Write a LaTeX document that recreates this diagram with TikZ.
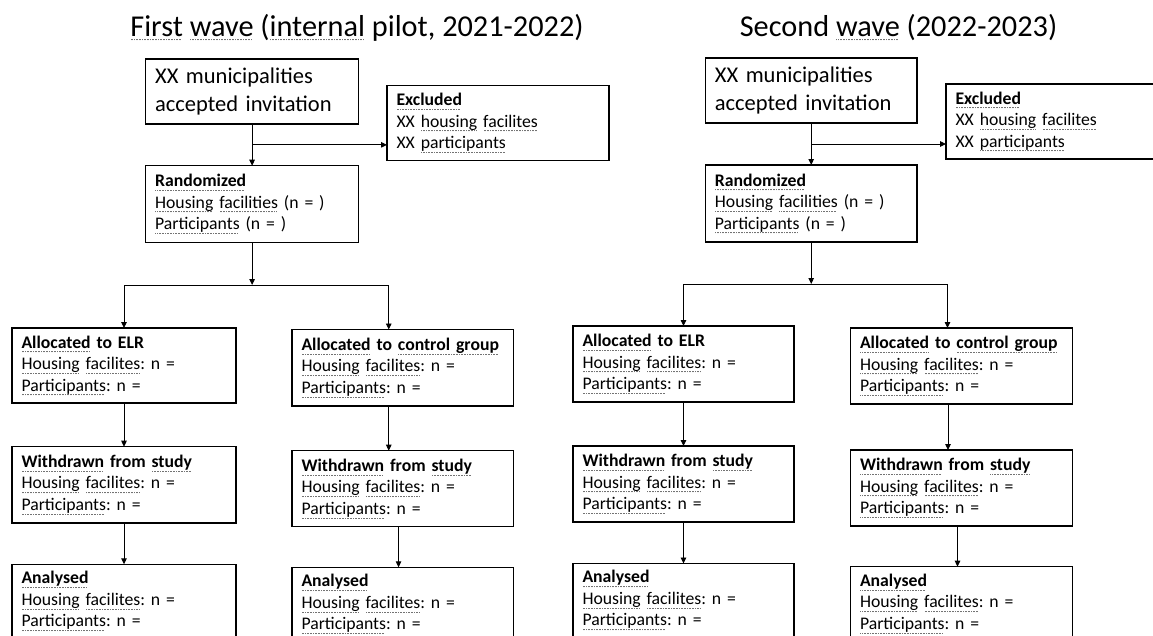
\documentclass[tikz,border=0pt]{standalone}
\usepackage{fontspec}
\setmainfont{Carlito}
\usetikzlibrary{arrows.meta,calc}
\frenchspacing
\definecolor{sqcol}{gray}{0.45}
\newsavebox\sqsavebox
\newcommand\sqline[1]{\leavevmode\sbox\sqsavebox{#1}\rlap{\hbox to \wd\sqsavebox{\color{sqcol}\leaders\hbox to 1.6pt{\hss\vrule depth 4.4pt height -3.4pt width 0.9pt\hss}\hfill}}\usebox\sqsavebox}
\newcommand\titlefont{\fontsize{30.3}{36}\selectfont\frenchspacing}
\newcommand\bigfont{\fontsize{22.5}{27.5}\selectfont\frenchspacing}
\newcommand\bodyfont{\fontsize{17.7}{21.5}\selectfont\frenchspacing}
\tikzset{
  x=1pt, y=1pt,
  box/.style={draw, line width=1.4pt, rectangle, anchor=north west, align=left,
    inner xsep=9.5pt, inner ysep=0pt, outer sep=0pt, font=\bodyfont},
  openbox/.style={box, inner ysep=7pt},
  arr/.style={line width=0.9pt, -{Triangle[length=6pt,width=5.5pt]}},
  ttl/.style={anchor=base, font=\titlefont, inner sep=0pt},
}
\begin{document}
\begin{tikzpicture}
\clip (0,0) rectangle (1153,-635);
\fill[white] (0,0) rectangle (1153,-635);

% titles
\node[ttl] (t1) at (357,-36) {\sqline{First} \sqline{wave} (\sqline{internal} pilot, 2021-2022)};
\node[ttl] (t2) at (898.5,-36) {Second \sqline{wave} (2022-2023)};

% ---------- first wave ----------
\node[box, font=\bigfont, text width=194pt, minimum width=213pt, minimum height=65pt] (inv1) at (145.6,-59)
  {XX municipalities\\accepted invitation};
\node[box, text width=203pt, minimum width=222pt, minimum height=75pt] (exc1) at (387,-85.5)
  {\textbf{\sqline{Excluded}}\\XX \sqline{housing} \sqline{facilites}\\XX \sqline{participants}};
\node[box, text width=194pt, minimum width=213pt, minimum height=76.6pt] (ran1) at (145.6,-165.7)
  {\textbf{\sqline{Randomized}}\\\sqline{Housing} \sqline{facilities} (n = )\\\sqline{Participants} (n = )};
\node[box, text width=205pt, minimum width=224pt, minimum height=75pt] (elr1) at (12,-328)
  {\textbf{\sqline{Allocated} to ELR}\\\sqline{Housing} \sqline{facilites}: n =\\\sqline{Participants}: n =};
\node[box, text width=202.5pt, minimum width=221.5pt, minimum height=76.5pt] (ctl1) at (292,-329.5)
  {\textbf{\sqline{Allocated} to \sqline{control group}}\\\sqline{Housing} \sqline{facilites}: n =\\\sqline{Participants}: n =};
\node[box, text width=205pt, minimum width=224pt, minimum height=76.3pt] (wel1) at (12,-446.7)
  {\textbf{\sqline{Withdrawn} from \sqline{study}}\\\sqline{Housing} \sqline{facilites}: n =\\\sqline{Participants}: n =};
\node[box, text width=202.5pt, minimum width=221.5pt, minimum height=76pt] (wct1) at (292,-450.7)
  {\textbf{\sqline{Withdrawn} from \sqline{study}}\\\sqline{Housing} \sqline{facilites}: n =\\\sqline{Participants}: n =};
\node[openbox, text width=205pt, minimum width=224pt] (ael1) at (12,-564.3)
  {\textbf{\sqline{Analysed}}\\\sqline{Housing} \sqline{facilites}: n =\\\sqline{Participants}: n =\\\mbox{}\\\mbox{}};
\node[openbox, text width=202.5pt, minimum width=221.5pt] (act1) at (292,-567.3)
  {\textbf{\sqline{Analysed}}\\\sqline{Housing} \sqline{facilites}: n =\\\sqline{Participants}: n =\\\mbox{}\\\mbox{}};

\draw[arr] (inv1.south) -- (ran1.north);
\coordinate (j1) at ($(inv1.south)!0.5!(ran1.north)$);
\draw[arr] (j1) -- (j1 -| exc1.west);
\coordinate (s1) at ([yshift=-42.7pt]ran1.south);
\draw[arr] (ran1.south) -- (s1);
\coordinate (c1top) at ([xshift=-14pt]ctl1.north);
\draw[arr] (s1) -| (elr1.north);
\draw[arr] (s1) -| (c1top);
\draw[arr] (elr1.south) -- (wel1.north);
\draw[arr] (wel1.south) -- (ael1.north);
\coordinate (c1a) at ([xshift=-14pt]ctl1.south);
\draw[arr] (c1a) -- (c1a |- wct1.north);
\coordinate (c1b) at ([xshift=-4.2pt]wct1.south);
\draw[arr] (c1b) -- (c1b |- act1.north);

% ---------- second wave ----------
\node[box, font=\bigfont, text width=192.6pt, minimum width=211.6pt, minimum height=65pt] (inv2) at (705.4,-58)
  {XX municipalities\\accepted invitation};
\node[box, text width=211pt, minimum width=230pt, minimum height=75pt] (exc2) at (946,-84)
  {\textbf{\sqline{Excluded}}\\XX \sqline{housing} \sqline{facilites}\\XX \sqline{participants}};
\node[box, text width=192.6pt, minimum width=211.6pt, minimum height=77pt] (ran2) at (705.4,-165)
  {\textbf{\sqline{Randomized}}\\\sqline{Housing} \sqline{facilities} (n = )\\\sqline{Participants} (n = )};
\node[box, text width=202pt, minimum width=221pt, minimum height=76pt] (elr2) at (573,-326)
  {\textbf{\sqline{Allocated} to ELR}\\\sqline{Housing} \sqline{facilites}: n =\\\sqline{Participants}: n =};
\node[box, text width=203pt, minimum width=222pt, minimum height=76pt] (ctl2) at (850.5,-328)
  {\textbf{\sqline{Allocated} to \sqline{control group}}\\\sqline{Housing} \sqline{facilites}: n =\\\sqline{Participants}: n =};
\node[box, text width=202pt, minimum width=221pt, minimum height=76pt] (wel2) at (573,-446)
  {\textbf{\sqline{Withdrawn} from \sqline{study}}\\\sqline{Housing} \sqline{facilites}: n =\\\sqline{Participants}: n =};
\node[box, text width=203pt, minimum width=222pt, minimum height=76pt] (wct2) at (850.5,-450)
  {\textbf{\sqline{Withdrawn} from \sqline{study}}\\\sqline{Housing} \sqline{facilites}: n =\\\sqline{Participants}: n =};
\node[openbox, text width=202pt, minimum width=221pt] (ael2) at (573,-563.5)
  {\textbf{\sqline{Analysed}}\\\sqline{Housing} \sqline{facilites}: n =\\\sqline{Participants}: n =\\\mbox{}\\\mbox{}};
\node[openbox, text width=203pt, minimum width=222pt] (act2) at (850.5,-566.7)
  {\textbf{\sqline{Analysed}}\\\sqline{Housing} \sqline{facilites}: n =\\\sqline{Participants}: n =\\\mbox{}\\\mbox{}};

\draw[arr] (inv2.south) -- (ran2.north);
\coordinate (j2) at ($(inv2.south)!0.5!(ran2.north)$);
\draw[arr] (j2) -- (j2 -| exc2.west);
\coordinate (s2) at ([yshift=-42pt]ran2.south);
\draw[arr] (ran2.south) -- (s2);
\coordinate (c2top) at ([xshift=-14pt]ctl2.north);
\draw[arr] (s2) -| (elr2.north);
\draw[arr] (s2) -| (c2top);
\draw[arr] (elr2.south) -- (wel2.north);
\draw[arr] (wel2.south) -- (ael2.north);
\coordinate (c2a) at ([xshift=-13.5pt]ctl2.south);
\draw[arr] (c2a) -- (c2a |- wct2.north);
\coordinate (c2b) at ([xshift=-4pt]wct2.south);
\draw[arr] (c2b) -- (c2b |- act2.north);
\end{tikzpicture}
\end{document}
